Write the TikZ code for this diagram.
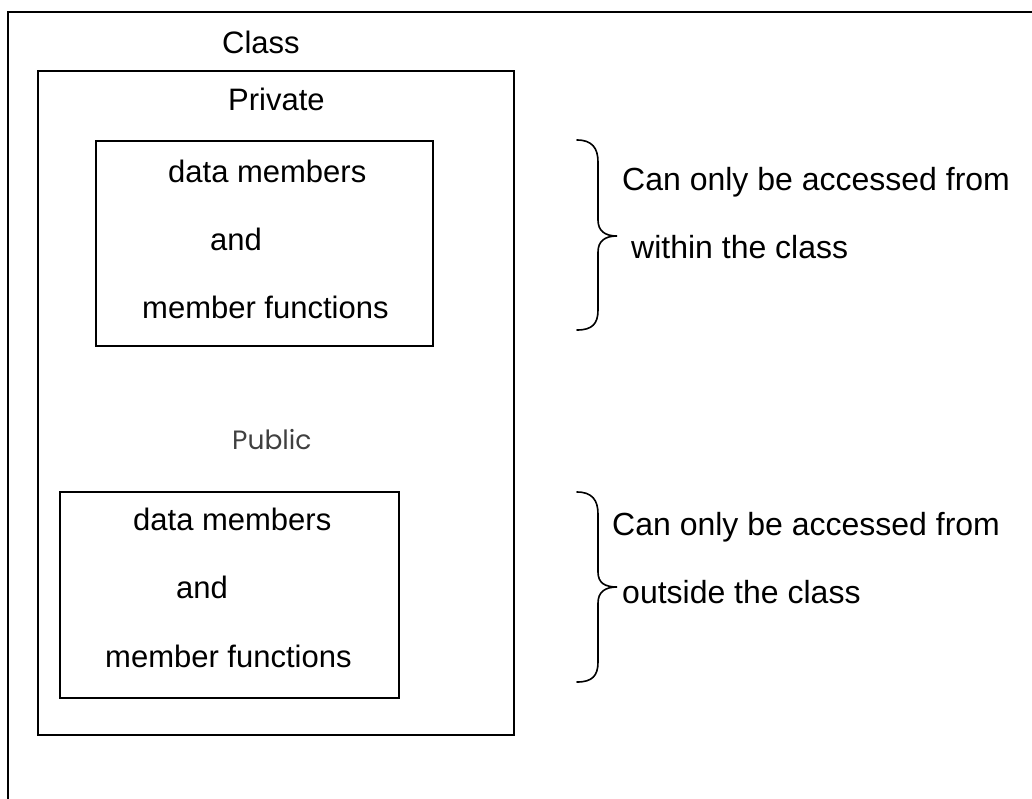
\documentclass[tikz,border=0pt]{standalone}
\usepackage{fontspec}
\setmainfont{Liberation Sans}
\newfontfamily\pubfont{Poppins}
\begin{document}
\begin{tikzpicture}[x=1pt,y=-1pt,
  frame/.style={draw=black,line width=1.6pt},
  boxrect/.style={draw=black,line width=1.6pt,inner sep=0pt,anchor=north west},
  lbl/.style={anchor=base west,inner sep=0pt,font=\fontsize{31}{36}\selectfont},
  rlbl/.style={anchor=base west,inner sep=0pt,font=\fontsize{32}{38}\selectfont},
  pub/.style={anchor=base west,inner sep=0pt,font=\pubfont\fontsize{26.5}{30}\selectfont,text=black!75},
  bracestyle/.style={draw=black,line width=1.6pt,line cap=round}]
\useasboundingbox (0,0) rectangle (1032,798);
% outer frame (cropped: only top and left edges visible)
\coordinate (ftl) at (8,12);
\coordinate (ftr) at (1034,12);
\coordinate (fbl) at (8,800);
\draw[frame] (ftr) -- (ftl) -- (fbl);
% boxes
\node[boxrect,minimum width=476pt,minimum height=664pt] (classbox) at (37,70) {};
\node[boxrect,minimum width=337pt,minimum height=205pt] (privbox) at (95,140) {};
\node[boxrect,minimum width=339pt,minimum height=206pt] (pubbox) at (59,491) {};
% titles
\node[lbl] (classlbl) at (222,53) {Class};
\node[lbl] (privlbl) at (228,110) {Private};
\node[pub] (publbl) at (232,449) {Public};
% private box text
\node[lbl] (pd) at (168,182) {data members};
\node[lbl] (pa) at (210,250) {and};
\node[lbl] (pf) at (142,318) {member functions};
% public box text
\node[lbl] (ud) at (133,530) {data members};
\node[lbl] (ua) at (176,598) {and};
\node[lbl] (uf) at (105,667) {member functions};
% right texts
\node[rlbl] (r1a) at (622,190) {Can only be accessed from};
\node[rlbl] (r1b) at (631,258) {within the class};
\node[rlbl] (r2a) at (612,535) {Can only be accessed from};
\node[rlbl] (r2b) at (622,603) {outside the class};
% braces
\draw[bracestyle] (577,140) .. controls (592,140) and (598,148) .. (598,162)
  -- (598,220) .. controls (598,231) and (605,236) .. (617,236)
  .. controls (605,236) and (598,241) .. (598,252)
  -- (598,310) .. controls (598,324) and (592,330) .. (577,330);
\draw[bracestyle] (577,492) .. controls (592,492) and (598,500) .. (598,514)
  -- (598,572) .. controls (598,583) and (605,587) .. (617,587)
  .. controls (605,587) and (598,592) .. (598,603)
  -- (598,662) .. controls (598,676) and (592,682) .. (577,682);
\end{tikzpicture}
\end{document}
